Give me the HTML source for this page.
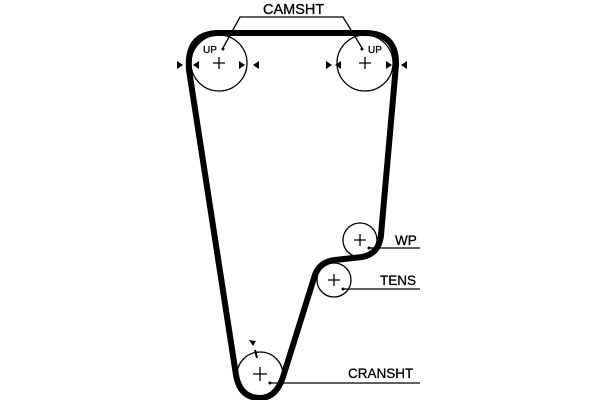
<!DOCTYPE html>
<html><head><style>body{margin:0;background:#fff}</style></head><body>
<svg width="600" height="400" viewBox="0 0 600 400" xmlns="http://www.w3.org/2000/svg" font-family="Liberation Sans, sans-serif">
<g fill="none" stroke="#000" stroke-width="1.3">
<circle cx="219" cy="63" r="28"/>
<circle cx="365" cy="63" r="28"/>
<circle cx="360" cy="240" r="17"/>
<circle cx="334" cy="280" r="17"/>
<circle cx="260" cy="375" r="23"/>
<path d="M223,48 L240,17 L343,17 L362,48"/>
<path d="M369,248 L420,248 M343,289 L420,289 M270,383 L420,383"/>
<path d="M219,57v12M213,63h12M365,57v12M359,63h12M360,234v12M354,240h12M334,274v12M328,280h12M260,367v14M253,374h14"/>
<path d="M255,350 l2,8" stroke-width="2"/>
</g>
<path d="M219,33 L365,33 Q397,33 396,65 L381,235 Q379,254 362,257 L335,260 Q318,262 314,278 L283,377 Q276,398 260,398 Q240,398 236,375 L189,70 Q186,33 219,33 Z" fill="none" stroke="#000" stroke-width="6" stroke-linejoin="round"/>
<g fill="#000">
<circle cx="223" cy="49" r="1.5"/><circle cx="362" cy="49" r="1.5"/>
<circle cx="369" cy="248" r="1.5"/><circle cx="343" cy="289" r="1.5"/><circle cx="270" cy="383" r="1.5"/>
<path d="M177,61 l6,4 -6,4z M199,61 l-6,4 6,4z M239,61 l6,4 -6,4z M259,61 l-6,4 6,4z"/>
<path d="M326,61 l6,4 -6,4z M341,61 l-6,4 6,4z M386,61 l6,4 -6,4z M407,61 l-6,4 6,4z"/>
<path d="M249,340 l7,1 -3,5z"/>
</g>
<g fill="#000" stroke="#000" stroke-width="0.3">
<text x="263" y="14" font-size="14.5">CAMSHT</text>
<text x="203" y="53" font-size="10">UP</text>
<text x="368" y="53" font-size="10">UP</text>
<text x="395" y="245" font-size="13.5">WP</text>
<text x="380" y="285" font-size="13.5">TENS</text>
<text x="348" y="378" font-size="13.5">CRANSHT</text>
</g>
</svg>
</body></html>
